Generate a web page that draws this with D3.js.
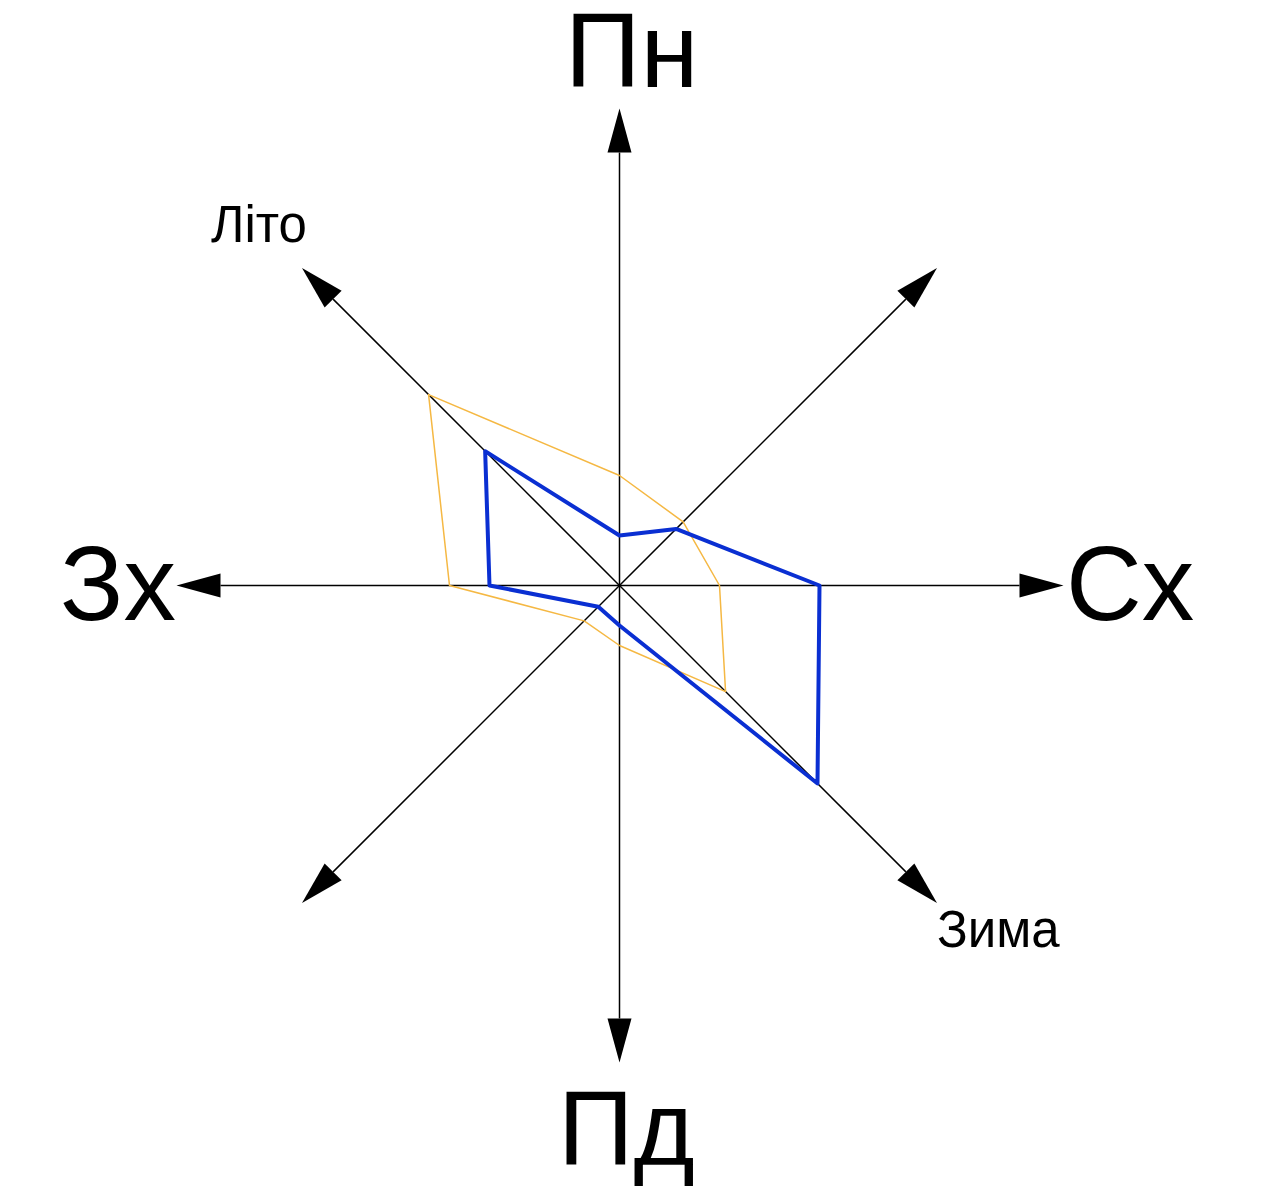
<!DOCTYPE html>
<html>
<head>
<meta charset="utf-8">
<script src="https://cdn.jsdelivr.net/npm/d3@7"></script>
<style>
  body { margin: 0; background: #fff; }
  svg { display: block; }
</style>
</head>
<body>
<div id="chart"></div>
<script>
// wind rose: directions clockwise from north, values in % of cases
const directions = ["Пн", "ПнСх", "Сх", "ПдСх", "Пд", "ПдЗх", "Зх", "ПнЗх"]
const winter = [5, 8, 20, 28, 4, 3, 13, 19]
const summer = [11, 9, 10, 15, 6, 5, 17, 27]
const axisLabels = ["Пн", "Сх", "Пд", "Зх"]
const seriesLabels = ["Зима", "Літо"]

const width = 1281, height = 1194
const cx = 619.5, cy = 585.5

const svg = d3.select("#chart")
    .append("svg")
    .attr("width", width)
    .attr("height", height)

const g = svg.append("g")
    .attr("transform", "translate(" + cx + "," + cy + ")")

// 10 px per percent
const r = d3.scaleLinear().domain([0, 30]).range([0, 300])
const angle = d3.scalePoint().domain(directions).range([0, 315])

function pos(dir, len) {
    const a = angle(dir) * Math.PI / 180
    return [Math.sin(a) * len, -Math.cos(a) * len]
}

// axis lengths (to arrow tip)
const axisLen = {"Пн": 477, "Сх": 444, "Пд": 477, "Зх": 443}
const headLen = 44, headW = 12

directions.forEach(function(dir) {
    const len = axisLen[dir] || 449
    const tip = pos(dir, len)
    const base = pos(dir, len - headLen)
    const a = angle(dir) * Math.PI / 180
    const px = Math.cos(a) * headW, py = Math.sin(a) * headW
    g.append("line")
        .attr("x1", 0).attr("y1", 0)
        .attr("x2", base[0]).attr("y2", base[1])
        .attr("stroke", "#000")
        .attr("stroke-width", 1.5)
    g.append("path")
        .attr("d", "M" + tip + "L" + [base[0] + px, base[1] + py] + "L" + [base[0] - px, base[1] - py] + "Z")
        .attr("fill", "#000")
})

const line = d3.lineRadial()
    .angle(function(d, i) { return angle(directions[i]) * Math.PI / 180 })
    .radius(function(d) { return r(d) })
    .curve(d3.curveLinearClosed)

g.append("path")
    .attr("d", line(summer))
    .attr("fill", "none")
    .attr("stroke", "#f5b843")
    .attr("stroke-width", 1.5)
    .attr("stroke-linejoin", "round")

g.append("path")
    .attr("d", line(winter))
    .attr("fill", "none")
    .attr("stroke", "#0a2fd2")
    .attr("stroke-width", 4)
    .attr("stroke-linejoin", "round")

// big direction labels
const font = "'Liberation Sans', Arial, sans-serif"
const labelPos = [
    {x: 565, y: 87, anchor: "start"},
    {x: 1066, y: 620, anchor: "start"},
    {x: 558, y: 1165, anchor: "start"},
    {x: 176, y: 620, anchor: "end"}
]
svg.selectAll(".dir-label")
    .data(axisLabels)
    .join("text")
    .attr("class", "dir-label")
    .attr("x", function(d, i) { return labelPos[i].x })
    .attr("y", function(d, i) { return labelPos[i].y })
    .attr("text-anchor", function(d, i) { return labelPos[i].anchor })
    .style("font-family", font)
    .style("font-size", "105px")
    .text(function(d) { return d })

// season labels at the ends of the diagonal
const seasonPos = [{x: 937, y: 947}, {x: 211, y: 242}]
svg.selectAll(".season-label")
    .data(seriesLabels)
    .join("text")
    .attr("class", "season-label")
    .attr("x", function(d, i) { return seasonPos[i].x })
    .attr("y", function(d, i) { return seasonPos[i].y })
    .style("font-family", font)
    .style("font-size", "51px")
    .text(function(d) { return d })
</script>
</body>
</html>
